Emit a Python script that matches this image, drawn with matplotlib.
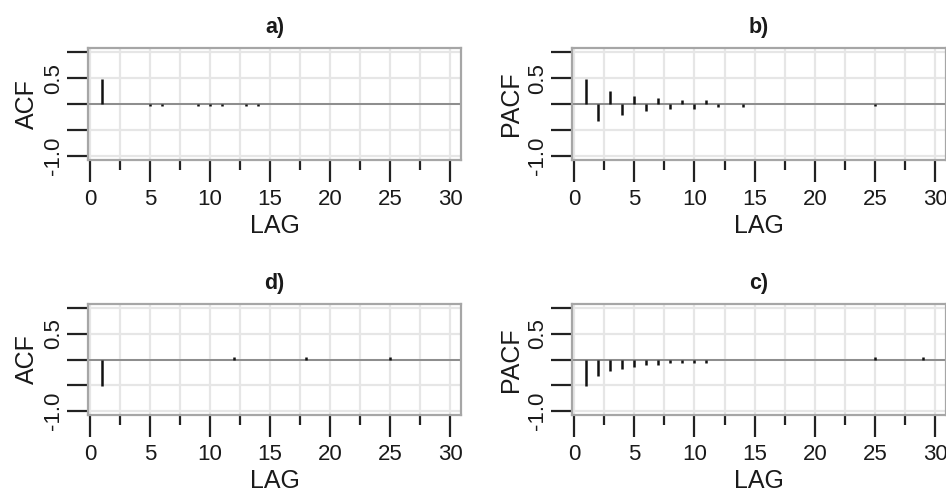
import numpy as np
import matplotlib
matplotlib.use("Agg")
import matplotlib.pyplot as plt
from matplotlib.ticker import FixedLocator

plt.rcParams['font.family'] = ['Liberation Sans', 'DejaVu Sans']

lags = list(range(1, 31))

# a) ACF
acf_a = [0.49, 0, 0, 0, -0.04, -0.04, 0, 0, -0.04, -0.04, -0.04, 0, -0.04, -0.04,
         0, 0, 0, 0, 0, 0, 0, 0, 0, 0, 0, 0, 0, 0, 0, 0]
# b) PACF
pacf_b = [0.49, -0.33, 0.26, -0.22, 0.15, -0.14, 0.11, -0.10, 0.07, -0.09, 0.07, -0.06, 0, -0.06,
          0, 0, 0, 0, 0, 0, 0, 0, 0, 0, -0.04, 0, 0, 0, 0, 0]
# d) ACF
acf_d = [-0.51, 0, 0, 0, 0, 0, 0, 0, 0, 0, 0, 0.04, 0, 0, 0, 0, 0, 0.04, 0, 0,
         0, 0, 0, 0, 0.04, 0, 0, 0, 0, 0]
# c) PACF
pacf_c = [-0.52, -0.33, -0.22, -0.19, -0.15, -0.11, -0.11, -0.07, -0.07, -0.07, -0.07, 0, 0, 0,
          0, 0, 0, 0, 0, 0, 0, 0, 0, 0, 0.04, 0, 0, 0, 0.04, 0]

panels = [
    ("a)", "ACF", acf_a),
    ("b)", "PACF", pacf_b),
    ("d)", "ACF", acf_d),
    ("c)", "PACF", pacf_c),
]

y_ticks = [-1.0, -0.5, 0.0, 0.5, 1.0]
y_ticklabels = ["-1.0", "", "", "0.5", ""]
x_major = [0, 5, 10, 15, 20, 25, 30]
x_minor = [2.5, 7.5, 12.5, 17.5, 22.5, 27.5]

W, H = 946, 495
fig = plt.figure(figsize=(W / 100, H / 100), dpi=100)

boxes = [  # left, top, right, bottom in pixels
    (88, 48, 461, 160),
    (572, 48, 946, 160),
    (88, 304, 461, 415),
    (572, 304, 946, 415),
]

for (title, ylab, vals), (l, t, r, b) in zip(panels, boxes):
    ax = fig.add_axes([l / W, 1 - b / H, (r - l) / W, (b - t) / H])
    ax.set_xlim(-0.17, 30.9)
    ax.set_ylim(-1.08, 1.08)
    ax.set_axisbelow(True)
    ax.xaxis.set_major_locator(FixedLocator(x_major))
    ax.xaxis.set_minor_locator(FixedLocator(x_minor))
    ax.set_yticks(y_ticks)
    ax.set_yticklabels(y_ticklabels, rotation=90, va='center')
    ax.grid(True, which='both', axis='x', color='#e6e6e6', lw=1.6)
    ax.grid(True, which='major', axis='y', color='#e6e6e6', lw=1.6)
    ax.axhline(0, color='#8c8c8c', lw=1.4, zorder=2)
    v = np.array(vals)
    lg = np.array(lags)
    m = v != 0
    ax.vlines(lg[m], 0, v[m], color='#111111', lw=1.8, zorder=3)
    for s in ax.spines.values():
        s.set_color('#a6a6a6')
        s.set_linewidth(1.6)
    ax.tick_params(axis='y', which='major', direction='out', length=15, width=1.6,
                   color='#222222', labelsize=16, pad=2, labelcolor='#1a1a1a')
    ax.tick_params(axis='x', which='major', direction='out', length=16, width=1.6,
                   color='#222222', labelsize=16, pad=5, labelcolor='#1a1a1a')
    ax.tick_params(axis='x', which='minor', direction='out', length=7, width=1.6,
                   color='#222222')
    ax.set_xlabel("LAG", fontsize=18, color='#1a1a1a', labelpad=3)
    ax.set_ylabel(ylab, fontsize=18, color='#1a1a1a', labelpad=3)
    ax.set_title(title, fontsize=15.5, fontweight='bold', color='#1a1a1a', pad=11)

fig.savefig("out.png", dpi=100)
